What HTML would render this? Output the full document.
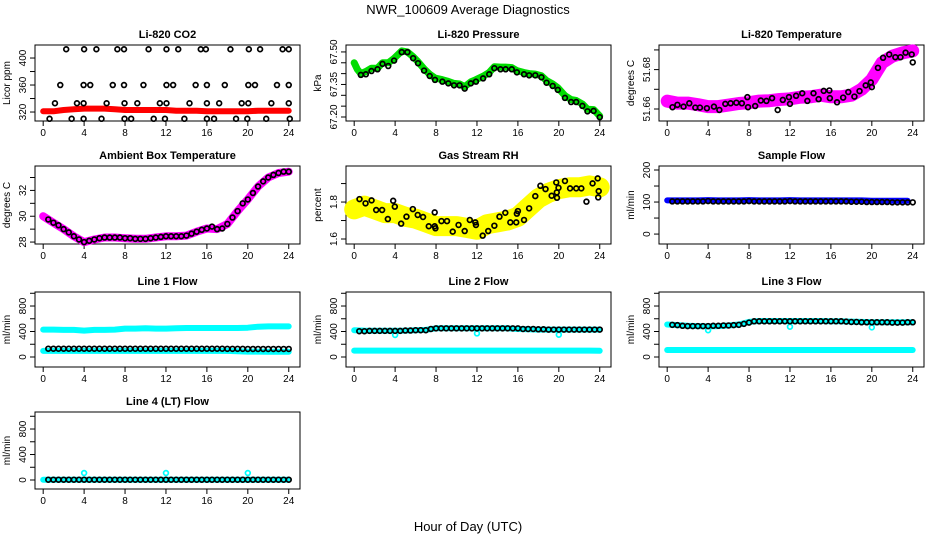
<!DOCTYPE html>
<html><head><meta charset="utf-8"><style>
html,body{margin:0;padding:0;background:#fff;}
svg{display:block;font-family:"Liberation Sans",Arial,sans-serif;}
</style></head><body>
<svg id="chart" width="936" height="540" viewBox="0 0 936 540" xmlns="http://www.w3.org/2000/svg">
<rect width="936" height="540" fill="#fff"/>
<text x="468" y="14" text-anchor="middle" font-size="13">NWR_100609  Average Diagnostics</text>
<text x="468" y="531" text-anchor="middle" font-size="13">Hour of Day (UTC)</text>
</svg>
<script>
// ---- data ----
const xTicks = [0,4,8,12,16,20,24];
const hourly = [0,1,2,3,4,5,6,7,8,9,10,11,12,13,14,15,16,17,18,19,20,21,22,23,24];
const halfHours = [0.5,1,1.5,2,2.5,3,3.5,4,4.5,5,5.5,6,6.5,7,7.5,8,8.5,9,9.5,10,10.5,11,11.5,12,12.5,13,13.5,14,14.5,15,15.5,16,16.5,17,17.5,18,18.5,19,19.5,20,20.5,21,21.5,22,22.5,23,23.5,24];

const co2Red = [321,321,323,324,325,325,325,324,323,323,323,323,323,322,322,322,321,321,321,321,321,322,322,322,322];
const co2BlackHours = [2.25,4.0,5.2,7.25,7.9,10.3,12.05,13.2,15.4,15.9,18.3,20.1,21.2,23.4,24.0,
 1.67,3.95,4.6,6.8,7.9,9.8,12.05,12.7,14.9,16.0,17.75,20.05,20.7,22.85,24.0,
 1.15,3.3,3.95,6.2,7.95,9.2,11.4,12.05,14.3,16.0,17.2,19.4,20.05,22.3,24.0,
 0.62,2.78,3.95,5.7,7.95,8.6,10.8,11.9,13.8,16.0,16.7,18.85,19.95,21.8,24.1];
const co2BlackValues = [413,413,413,413,413,413,413,413,413,413,413,413,413,413,413,
 360,360,360,360,360,360,360,360,360,360,360,360,360,360,360,
 333,333,333,333,333,333,333,333,333,333,333,333,333,333,333,
 310,310,310,310,310,310,310,310,310,310,310,310,310,310,310];

const presHours = [0.65,1.14,1.69,2.28,2.77,3.33,3.9,4.65,5.2,5.76,6.24,6.83,7.38,7.9,8.62,9.2,9.76,10.3,10.8,11.4,11.9,12.6,13.2,13.7,14.3,14.8,15.4,15.9,16.6,17.1,17.7,18.3,18.8,19.4,19.9,20.6,21.2,21.7,22.3,22.8,23.4,24.0];
const presBlack = [67.394,67.397,67.412,67.420,67.445,67.435,67.460,67.499,67.499,67.471,67.448,67.414,67.389,67.371,67.363,67.355,67.346,67.346,67.331,67.355,67.363,67.378,67.397,67.425,67.420,67.420,67.420,67.406,67.397,67.392,67.392,67.383,67.358,67.343,67.325,67.288,67.269,67.269,67.251,67.226,67.228,67.199];
const presGreenHours = [0,0.3,0.65,1.14,1.69,2.28,2.77,3.33,3.9,4.65,5.2,5.76,6.24,6.83,7.38,7.9,8.62,9.2,9.76,10.3,10.8,11.4,11.9,12.6,13.2,13.7,14.3,14.8,15.4,15.9,16.6,17.1,17.7,18.3,18.8,19.4,19.9,20.6,21.2,21.7,22.3,22.8,23.4,24.0];
const presGreen = [67.450,67.420,67.400,67.410,67.425,67.425,67.450,67.450,67.470,67.505,67.500,67.478,67.455,67.422,67.397,67.380,67.372,67.364,67.355,67.352,67.340,67.362,67.372,67.388,67.405,67.432,67.430,67.430,67.428,67.414,67.405,67.400,67.398,67.390,67.368,67.352,67.335,67.298,67.280,67.276,67.260,67.236,67.234,67.205];

const tempHours = [0.52,1.0,1.6,2.16,2.75,3.2,3.88,4.57,5.1,5.68,6.2,6.76,7.3,7.84,7.9,8.6,9.15,9.7,10.25,10.8,11.3,11.9,12.0,12.6,13.2,13.7,14.3,14.8,15.3,15.85,15.9,16.6,17.2,17.7,18.3,18.8,19.4,19.9,20.0,20.6,21.1,21.7,22.3,22.8,23.3,23.9,24.0];
const tempBlack = [51.6609,51.6621,51.6612,51.6629,51.6607,51.6607,51.6604,51.6612,51.6595,51.6626,51.6629,51.6632,51.6629,51.6660,51.6609,51.6615,51.6643,51.6641,51.6655,51.6595,51.6646,51.6660,51.6626,51.6667,51.6680,51.6641,51.6680,51.6650,51.6692,51.6694,51.6655,51.6634,51.6658,51.6686,51.6663,51.6691,51.6720,51.6735,51.6711,51.6809,51.6860,51.6877,51.6863,51.6863,51.6886,51.6877,51.6837];
const tempMagenta = [51.6640,51.6630,51.6630,51.6622,51.6612,51.6612,51.6620,51.6628,51.6632,51.6640,51.6642,51.6648,51.6652,51.6660,51.6662,51.6670,51.6662,51.6662,51.6670,51.6700,51.6750,51.6835,51.6868,51.6885,51.6895];

const ambMagenta = [30.0,29.5,29.0,28.45,28.0,28.2,28.35,28.35,28.3,28.25,28.25,28.35,28.45,28.45,28.5,28.8,29.05,29.0,29.4,30.4,31.3,32.3,33.0,33.35,33.45];
const ambBlack = [29.75,29.5,29.3,29.0,28.75,28.45,28.2,28.0,28.1,28.2,28.3,28.35,28.35,28.35,28.35,28.3,28.3,28.25,28.25,28.25,28.3,28.35,28.4,28.45,28.45,28.45,28.45,28.5,28.65,28.8,28.95,29.05,29.2,29.0,29.05,29.4,29.9,30.4,31.0,31.3,31.8,32.3,32.7,33.0,33.2,33.35,33.45,33.45];

const rhYellow = [1.76,1.78,1.76,1.74,1.74,1.72,1.71,1.69,1.67,1.67,1.67,1.66,1.65,1.68,1.69,1.70,1.72,1.77,1.82,1.85,1.87,1.88,1.88,1.89,1.88];
const rhHours = [0.52,1.11,1.70,2.15,2.73,3.29,3.81,3.97,4.59,5.11,5.73,6.21,6.73,7.29,7.87,7.87,7.94,8.53,9.07,9.63,10.2,10.8,11.3,11.84,11.9,12.56,13.1,13.7,14.2,14.77,15.26,15.84,15.9,16.0,16.6,17.1,17.7,18.2,18.7,19.3,19.75,19.8,19.82,19.97,20.6,21.1,21.7,22.2,22.7,23.3,23.8,23.9,23.85];
const rhBlack = [1.816,1.793,1.809,1.757,1.757,1.708,1.807,1.775,1.683,1.721,1.762,1.730,1.719,1.669,1.669,1.744,1.658,1.697,1.697,1.640,1.676,1.643,1.703,1.690,1.676,1.618,1.643,1.672,1.721,1.742,1.690,1.690,1.737,1.751,1.703,1.766,1.832,1.888,1.870,1.834,1.906,1.852,1.823,1.877,1.914,1.874,1.874,1.874,1.802,1.901,1.928,1.859,1.825];

const sampleBlue = [105,105,105,105,106,105,105,105,106,105,105,105,106,105,105,105,105,105,105,105,104,104,104,104,104];
const sampleBlack = [102,102,102,102,102,102,102,103,102,102,102,102,102,102,102,103,102,102,102,102,102,102,102,103,102,102,102,102,102,102,102,102,102,102,102,101,101,101,100,100,100,100,100,99,99,99,99,99];

const l1CyanHigh = [430,430,425,425,415,425,425,430,445,445,450,445,445,450,455,455,455,455,455,455,460,475,480,480,480];
const l1CyanLow = [95,95,95,95,95,95,95,95,95,95,95,95,95,95,95,95,95,95,95,90,85,85,82,82,82];
const l1Black = [130,130,130,130,130,130,130,130,130,130,130,130,130,130,130,130,130,130,130,130,130,130,130,130,130,130,130,130,130,130,130,130,130,130,130,128,128,128,128,126,126,126,126,126,126,126,126,126];

const l2CyanHigh = [420,415,412,412,412,415,420,425,450,450,450,450,450,450,450,450,440,435,430,430,430,430,430,430,430];
const l2CyanLow = [100,100,100,100,100,100,100,100,100,100,100,100,100,100,100,100,100,100,100,100,100,100,100,100,98];
const l2Black = [405,405,410,410,410,410,410,410,410,415,415,420,420,420,440,450,450,450,450,450,450,450,450,450,450,450,450,450,450,450,450,450,440,440,440,435,435,430,430,430,430,430,430,430,430,430,430,430];
const dipHours = [4,12,20];
const l2Dips = [345,370,350];

const l3CyanHigh = [510,500,490,485,480,485,495,510,550,565,565,565,565,565,565,565,560,560,555,550,545,545,545,545,545];
const l3CyanLow = [110,110,110,110,110,110,110,110,110,110,110,110,110,110,110,110,110,110,110,110,110,110,110,110,110];
const l3Black = [505,500,490,485,485,485,485,485,490,490,495,495,500,505,520,540,560,560,560,560,560,560,560,560,560,560,560,560,560,560,560,560,560,560,555,550,550,545,545,545,545,545,545,540,540,540,545,545];
const l3Dips = [420,475,465];

const l4Cyan = [5,5,5,5,5,5,5,5,5,5,5,5,5,5,5,5,5,5,5,5,5,5,5,5,5];
const l4Black = [5,5,5,5,5,5,5,5,5,5,5,5,5,5,5,5,5,5,5,5,5,5,5,5,5,5,5,5,5,5,5,5,5,5,5,5,5,5,5,5,5,5,5,5,5,5,5,5];
const l4Spikes = [110,110,110];

// ---- layout ----
const NS = "http://www.w3.org/2000/svg";
const svg = document.getElementById('chart');
const colLeft = [35,346,659], colW = 265;
const rowTop = [45,166,292,412], rowH = [76,78,75,77];
const xDom = [-0.8,25.1];

function mk(tag, attrs, parent){
  const e = document.createElementNS(NS, tag);
  for (const k in attrs) e.setAttribute(k, attrs[k]);
  (parent||svg).appendChild(e);
  return e;
}

function makePanel(name, col, row, yDom, yTicks, yLabels, title, ylab){
  const L = colLeft[col], T = rowTop[row], H = rowH[row];
  const g = mk('g', {});
  
  
  const p = {g, L, T, H,
    x: v => L + (v - xDom[0]) / (xDom[1]-xDom[0]) * colW,
    y: v => T + H - (v - yDom[0]) / (yDom[1]-yDom[0]) * H};
  const box = mk('rect', {x:L, y:T, width:colW, height:H, fill:'none', stroke:'#000', 'stroke-width':1}, g);
  
  
  const t = mk('text', {x:L+colW/2, y:T-7, 'text-anchor':'middle', 'font-size':11, 'font-weight':'bold'}, g);
  t.textContent = title;
  
  
  const xa = mk('g', {}, g);
  
  
  const yb = T + H;
  mk('line', {x1:p.x(xTicks[0]), x2:p.x(xTicks[xTicks.length-1]), y1:yb, y2:yb, stroke:'#000'}, xa);
  xTicks.forEach(v => {
    mk('line', {x1:p.x(v), x2:p.x(v), y1:yb, y2:yb+5, stroke:'#000'}, xa);
    const tx = mk('text', {x:p.x(v), y:yb+15, 'text-anchor':'middle', 'font-size':10}, xa);
    tx.textContent = v;
  });
  const ya = mk('g', {}, g);
  
  
  mk('line', {x1:L, x2:L, y1:p.y(yTicks[0]), y2:p.y(yTicks[yTicks.length-1]), stroke:'#000'}, ya);
  yTicks.forEach(v => {
    mk('line', {x1:L-5, x2:L, y1:p.y(v), y2:p.y(v), stroke:'#000'}, ya);
  });
  yLabels.forEach(v => {
    const yy = p.y(v), xx = L-9;
    const tx = mk('text', {x:xx, y:yy, 'text-anchor':'middle', 'font-size':10, transform:`rotate(-90 ${xx} ${yy})`}, ya);
    tx.textContent = (typeof v === 'number' && v % 1 !== 0) ? v.toFixed(2).replace(/^(1\.[0-9])0$/,'$1') : v;
  });
  const yl = mk('text', {x:L-25, y:T+H/2, 'text-anchor':'middle', 'font-size':10, transform:`rotate(-90 ${L-25} ${T+H/2})`}, g);
  yl.textContent = ylab;
  
  
  return p;
}

function band(p, xs, ys, color, w, name){
  const d = xs.map((x,i)=> (i?'L':'M') + p.x(x).toFixed(1) + ' ' + p.y(ys[i]).toFixed(1)).join(' ');
  const e = mk('path', {d, fill:'none', stroke:color, 'stroke-width':w, 'stroke-linejoin':'round', 'stroke-linecap':'round'}, p.g);
  
  
}
function pts(p, xs, ys, color, name, r, sw){
  const g = mk('g', {}, p.g);
  
  
  xs.forEach((x,i) => {
    mk('circle', {cx:p.x(x), cy:p.y(ys[i]), r:r||2.4, fill:'none', stroke:color, 'stroke-width':sw||1.7}, g);
  });
}

let p = makePanel('co2', 0, 0, [306.7,419.3], [320,340,360,380,400], [320,360,400], 'Li-820 CO2', 'Licor ppm');
band(p, hourly, co2Red, '#ff0000', 6, 'co2-red-series');
pts(p, co2BlackHours, co2BlackValues, '#000', 'co2-black-points');

p = makePanel('pressure', 1, 0, [67.1815,67.532], [67.20,67.25,67.30,67.35,67.40,67.45,67.50], [67.20,67.35,67.50], 'Li-820 Pressure', 'kPa');
band(p, presGreenHours, presGreen, '#00dd00', 7, 'pressure-green-series');
pts(p, presHours, presBlack, '#000', 'pressure-black-points');

p = makePanel('li820-temp', 2, 0, [51.6539,51.6925], [51.66,51.67,51.68,51.69], [51.66,51.68], 'Li-820 Temperature', 'degrees C');
band(p, hourly, tempMagenta, '#ff00ff', 13, 'li820-temp-magenta-series');
pts(p, tempHours, tempBlack, '#000', 'li820-temp-black-points');

p = makePanel('ambient-temp', 0, 1, [27.85,33.89], [28,29,30,31,32,33], [28,30,32], 'Ambient Box Temperature', 'degrees C');
band(p, hourly, ambMagenta, '#ff00ff', 8, 'ambient-temp-magenta-series');
pts(p, halfHours, ambBlack, '#000', 'ambient-temp-black-points');

p = makePanel('rh', 1, 1, [1.573,1.995], [1.6,1.7,1.8,1.9], [1.6,1.8], 'Gas Stream RH', 'percent');
band(p, hourly, rhYellow, '#ffff00', 20, 'rh-yellow-series');
pts(p, rhHours, rhBlack, '#000', 'rh-black-points');

p = makePanel('sample-flow', 2, 1, [-31,212.5], [0,50,100,150,200], [0,100,200], 'Sample Flow', 'ml/min');
band(p, hourly.slice(0,24).concat([23.5]), sampleBlue, '#0000ff', 6, 'sample-flow-blue-series');
pts(p, halfHours, sampleBlack, '#000', 'sample-flow-black-points');

const flowTicks = [0,200,400,600,800,1000], flowLabels = [0,400,800];
p = makePanel('line1-flow', 0, 2, [-157,1020], flowTicks, flowLabels, 'Line 1 Flow', 'ml/min');
band(p, hourly, l1CyanHigh, '#00ffff', 6, 'line1-cyan-high-series');
band(p, hourly, l1CyanLow, '#00ffff', 6, 'line1-cyan-low-series');
pts(p, halfHours, l1Black, '#000', 'line1-black-points');

p = makePanel('line2-flow', 1, 2, [-157,1020], flowTicks, flowLabels, 'Line 2 Flow', 'ml/min');
band(p, hourly, l2CyanHigh, '#00ffff', 6, 'line2-cyan-high-series');
band(p, hourly, l2CyanLow, '#00ffff', 6, 'line2-cyan-low-series');
pts(p, dipHours, l2Dips, '#00ffff', 'line2-cyan-dips');
pts(p, halfHours, l2Black, '#000', 'line2-black-points');

p = makePanel('line3-flow', 2, 2, [-157,1020], flowTicks, flowLabels, 'Line 3 Flow', 'ml/min');
band(p, hourly, l3CyanHigh, '#00ffff', 6, 'line3-cyan-high-series');
band(p, hourly, l3CyanLow, '#00ffff', 6, 'line3-cyan-low-series');
pts(p, dipHours, l3Dips, '#00ffff', 'line3-cyan-dips');
pts(p, halfHours, l3Black, '#000', 'line3-black-points');

p = makePanel('line4-flow', 0, 3, [-141,1067], flowTicks, flowLabels, 'Line 4 (LT) Flow', 'ml/min');
band(p, hourly, l4Cyan, '#00ffff', 6, 'line4-cyan-series');
pts(p, dipHours, l4Spikes, '#00ffff', 'line4-cyan-spikes');
pts(p, halfHours, l4Black, '#000', 'line4-black-points');
</script>
</body></html>
